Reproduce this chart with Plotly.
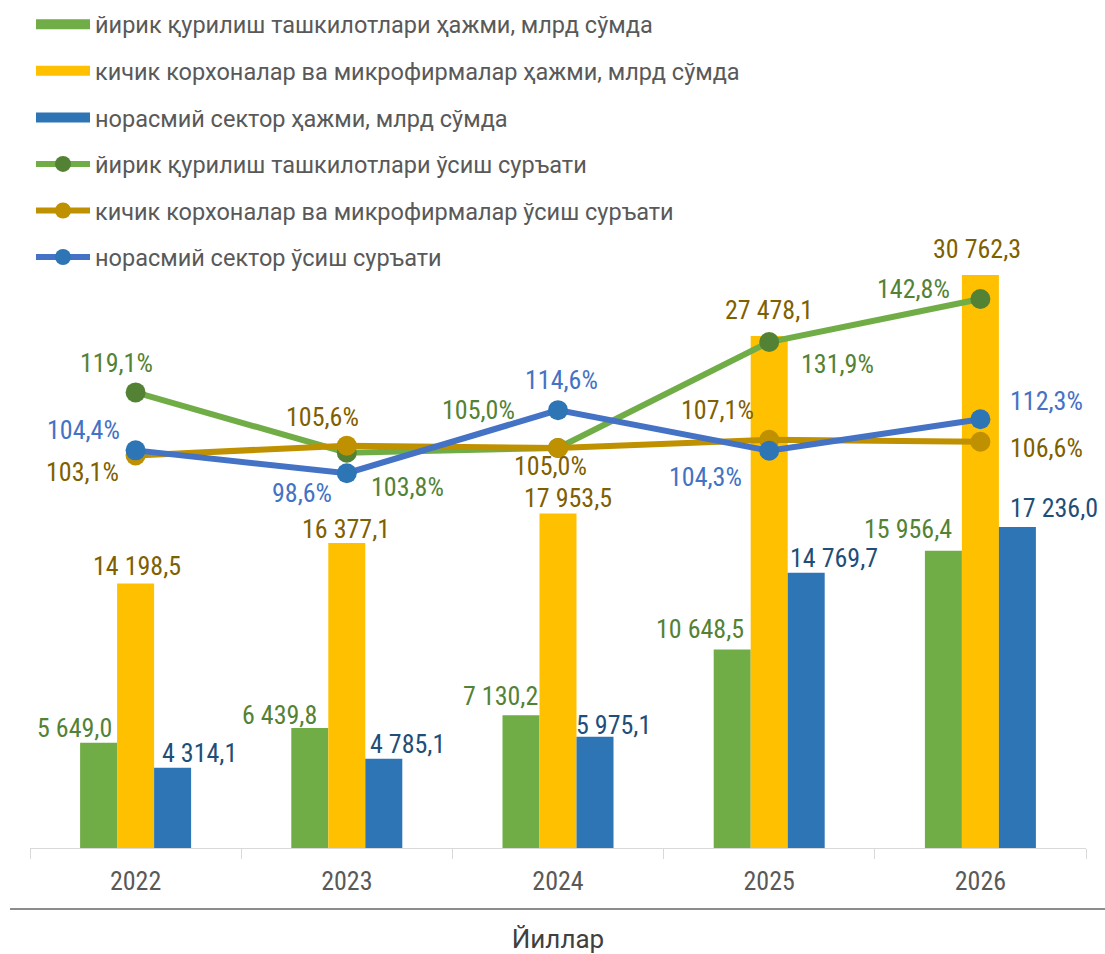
import plotly.graph_objects as go

# ---------------- data ----------------
years = ["2022", "2023", "2024", "2025", "2026"]

large_vol = [5649.0, 6439.8, 7130.2, 10648.5, 15956.4]
small_vol = [14198.5, 16377.1, 17953.5, 27478.1, 30762.3]
informal_vol = [4314.1, 4785.1, 5975.1, 14769.7, 17236.0]

large_growth = [119.1, 103.8, 105.0, 131.9, 142.8]
small_growth = [103.1, 105.6, 105.0, 107.1, 106.6]
informal_growth = [104.4, 98.6, 114.6, 104.3, 112.3]

name_large_vol = "йирик қурилиш ташкилотлари ҳажми, млрд сўмда"
name_small_vol = "кичик корхоналар ва микрофирмалар ҳажми, млрд сўмда"
name_informal_vol = "норасмий сектор ҳажми, млрд сўмда"
name_large_gr = "йирик қурилиш ташкилотлари ўсиш суръати"
name_small_gr = "кичик корхоналар ва микрофирмалар ўсиш суръати"
name_informal_gr = "норасмий сектор ўсиш суръати"

x_title = "Йиллар"

# ---------------- style ----------------
C_GREEN = "#70AD47"
C_GREEN_DK = "#548235"
C_GOLD = "#FFC000"
C_GOLD_LINE = "#BF9000"
C_GOLD_TXT = "#7F6000"
C_BLUE = "#2E75B6"
C_BLUE_LINE = "#4472C4"
C_BLUE_TXT = "#1F4E79"
C_TEXT = "#595959"

NUM_FONT = "Roboto Condensed, Liberation Sans Narrow, Arial Narrow, Roboto, sans-serif"
LBL_SIZE = 26

# label offsets in pixels (dx right, dy up)
bar_lbl = {
    "large": ([-61, -67.5, -58, -69, -72], [15, 13.5, 19, 21, 22]),
    "small": ([1.5, -0.7, 10, 0, -3], [17, 14, 15.5, 26, 26]),
    "informal": ([63.4, 60.5, 55.8, 64.6, 74], [14.5, 15, 12, 15, 19]),
}
line_lbl = {
    "large": ([-18.8, 60.5, -79.4, 67.9, -67.3], [29.5, -33.9, 38.1, -21.9, 10.1]),
    "small": ([-53.3, -24.5, -7.4, -51.6, 66.4], [-17, 28.2, -17.7, 29.8, -5.8]),
    "informal": ([-52.5, -44.5, 3, -63.6, 66.4], [20.4, -20.2, 30.2, -26.5, 18.5]),
}


def fmt_num(v):
    return f"{v:,.1f}".replace(",", " ").replace(".", ",")


def fmt_pct(v):
    return f"{v:.1f}%".replace(".", ",")


fig = go.Figure()

# bars
for vals, col, nm in [
    (large_vol, C_GREEN, name_large_vol),
    (small_vol, C_GOLD, name_small_vol),
    (informal_vol, C_BLUE, name_informal_vol),
]:
    fig.add_trace(go.Bar(x=years, y=vals, name=nm, marker=dict(color=col, line=dict(width=0)),
                         showlegend=False, yaxis="y"))

# legend swatches for bars (wide rectangles)
for col, nm in [(C_GREEN, name_large_vol), (C_GOLD, name_small_vol), (C_BLUE, name_informal_vol)]:
    fig.add_trace(go.Scatter(x=[years[0]], y=[None], mode="lines", name=nm,
                             line=dict(color=col, width=17), legendgroup=nm, showlegend=True,
                             hoverinfo="skip"))

# lines
for vals, lc, mc, nm in [
    (large_growth, C_GREEN, C_GREEN_DK, name_large_gr),
    (small_growth, C_GOLD_LINE, C_GOLD_LINE, name_small_gr),
    (informal_growth, C_BLUE_LINE, C_BLUE, name_informal_gr),
]:
    fig.add_trace(go.Scatter(x=years, y=vals, name=nm, mode="lines+markers", yaxis="y2",
                             line=dict(color=lc, width=6),
                             marker=dict(color=mc, size=20, line=dict(width=0)),
                             legendgroup=nm))

# data labels (x given as category index on the category axis)
annotations = []
for key, vals, col in [("large", large_vol, C_GREEN_DK), ("small", small_vol, C_GOLD_TXT),
                       ("informal", informal_vol, C_BLUE_TXT)]:
    dxs, dys = bar_lbl[key]
    for i, (v, dx, dy) in enumerate(zip(vals, dxs, dys)):
        annotations.append(dict(x=i, y=v, xref="x", yref="y", text=fmt_num(v), showarrow=False,
                                xanchor="center", yanchor="middle", xshift=dx, yshift=dy,
                                font=dict(family=NUM_FONT, size=LBL_SIZE, color=col)))
for key, vals, col in [("large", large_growth, C_GREEN_DK), ("small", small_growth, C_GOLD_TXT),
                       ("informal", informal_growth, C_BLUE_LINE)]:
    dxs, dys = line_lbl[key]
    for i, (v, dx, dy) in enumerate(zip(vals, dxs, dys)):
        annotations.append(dict(x=i, y=v, xref="x", yref="y2", text=fmt_pct(v), showarrow=False,
                                xanchor="center", yanchor="middle", xshift=dx, yshift=dy,
                                font=dict(family=NUM_FONT, size=LBL_SIZE, color=col)))

fig.update_layout(
    width=1105, height=954, autosize=False,
    margin=dict(l=30, r=19, t=195, b=106, autoexpand=False),
    paper_bgcolor="white", plot_bgcolor="white",
    barmode="group", bargap=0.4744, bargroupgap=0,
    font=dict(family="Roboto, sans-serif", color=C_TEXT),
    xaxis=dict(type="category", categoryorder="array", categoryarray=years,
               range=[-0.5, len(years) - 0.5],
               showline=True, linecolor="#D9D9D9", linewidth=1,
               ticks="outside", tickson="boundaries", ticklen=10, tickcolor="#D9D9D9",
               tickwidth=1, showgrid=False, zeroline=False, ticklabelstandoff=10,
               tickangle=0,
               tickfont=dict(family=NUM_FONT, size=26, color=C_TEXT),
               title=dict(text=x_title, standoff=38,
                          font=dict(family="Roboto, sans-serif", size=26, color="#404040"))),
    yaxis=dict(range=[0, 35050], visible=False, showgrid=False, zeroline=False),
    yaxis2=dict(range=[3.5, 169.2], overlaying="y", side="right", visible=False,
                showgrid=False, zeroline=False),
    legend=dict(xref="container", yref="container", x=31 / 1105, y=1 - 2.5 / 954,
                xanchor="left", yanchor="top", traceorder="grouped", tracegroupgap=13.0,
                itemwidth=54, bgcolor="rgba(0,0,0,0)",
                font=dict(family="Roboto, sans-serif", size=23.5, color=C_TEXT)),
    annotations=annotations,
    shapes=[dict(type="line", xref="paper", yref="paper", x0=-20 / 1056, x1=1.02,
                 y0=-61 / 653, y1=-61 / 653, line=dict(color="#8C8C8C", width=2))],
)

fig.write_html("out.html", config={"displayModeBar": False},
               post_script="document.body.style.margin='0px';")
